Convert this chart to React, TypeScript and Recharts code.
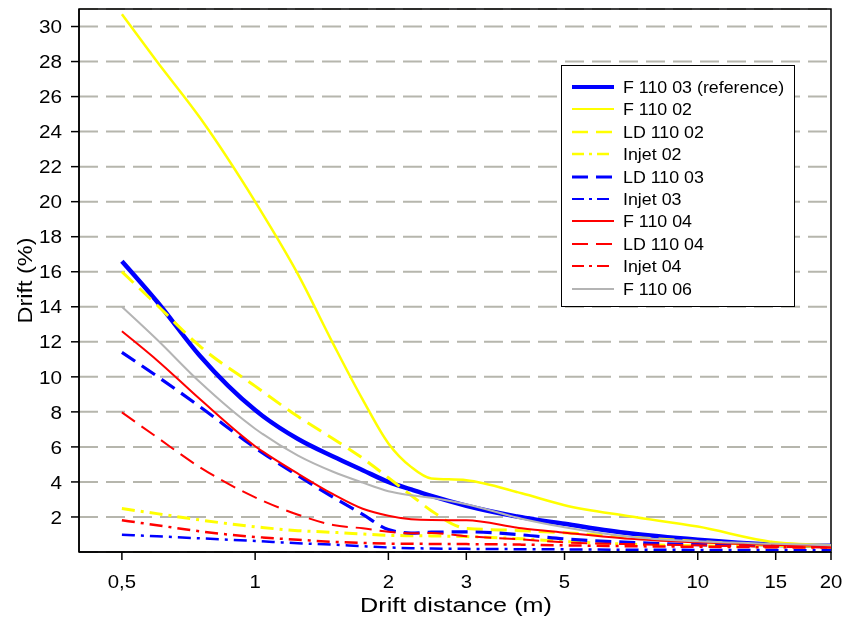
import React from 'react';
import { LineChart, Line, XAxis, YAxis, CartesianGrid, ReferenceArea, Legend } from 'recharts';

// Drift distance (m)
const distances = [0.5, 0.6, 0.75, 1, 1.25, 1.5, 1.75, 2, 2.25, 2.5, 3, 4, 5, 7, 10, 15, 20];

// Drift (%)
const f11003 = [16.6, 14.3, 11.2, 8.1, 6.45, 5.45, 4.67, 4.0, 3.57, 3.2, 2.64, 1.98, 1.61, 1.07, 0.7, 0.42, 0.35];
const f11002 = [30.7, 28.0, 24.8, 20.0, 15.85, 11.9, 8.7, 6.2, 4.86, 4.2, 4.1, 3.35, 2.67, 2.04, 1.45, 0.55, 0.38];
const ld11002 = [16.0, 14.1, 11.75, 9.47, 7.73, 6.47, 5.35, 4.24, 3.24, 2.36, 1.35, 1.22, 1.1, 0.85, 0.6, 0.38, 0.3];
const injet02 = [2.48, 2.19, 1.83, 1.44, 1.22, 1.12, 1.03, 0.95, 0.93, 0.92, 0.88, 0.75, 0.6, 0.45, 0.35, 0.3, 0.28];
const ld11003 = [11.4, 10.04, 8.3, 5.95, 4.35, 3.13, 2.15, 1.28, 1.08, 1.13, 1.15, 0.98, 0.75, 0.55, 0.42, 0.35, 0.3];
const injet03 = [0.99, 0.9, 0.78, 0.63, 0.5, 0.42, 0.33, 0.26, 0.22, 0.2, 0.18, 0.16, 0.15, 0.13, 0.12, 0.11, 0.1];
const f11004 = [12.6, 10.95, 8.73, 6.04, 4.47, 3.3, 2.47, 2.07, 1.87, 1.82, 1.81, 1.35, 1.1, 0.75, 0.55, 0.4, 0.35];
const ld11004 = [7.97, 6.55, 4.84, 3.12, 2.13, 1.54, 1.35, 1.15, 1.07, 1.08, 0.9, 0.72, 0.55, 0.45, 0.38, 0.3, 0.25];
const injet04 = [1.81, 1.53, 1.18, 0.86, 0.7, 0.58, 0.52, 0.48, 0.47, 0.46, 0.45, 0.42, 0.38, 0.33, 0.3, 0.27, 0.25];
const f11006 = [14.0, 12.13, 9.7, 7.04, 5.5, 4.58, 3.96, 3.47, 3.24, 3.1, 2.73, 1.9, 1.41, 0.87, 0.61, 0.47, 0.38];

const xTicks = [0.5, 1, 2, 3, 5, 10, 15, 20];
const yTicks = [2, 4, 6, 8, 10, 12, 14, 16, 18, 20, 22, 24, 26, 28, 30];

const DASH = '16 8';
const DASHDOT = '13 6 3 6';

const series = [
  { key: 'f11003', name: 'F 110 03 (reference)', values: f11003, color: '#0000ff', width: 4.5, dash: undefined, legendDash: undefined, legendWidth: 4 },
  { key: 'f11002', name: 'F 110 02', values: f11002, color: '#ffff00', width: 2.5, dash: undefined, legendDash: undefined, legendWidth: 2.2 },
  { key: 'ld11002', name: 'LD 110 02', values: ld11002, color: '#ffff00', width: 3, dash: DASH, legendDash: '16 8', legendWidth: 2.7 },
  { key: 'injet02', name: 'Injet 02', values: injet02, color: '#ffff00', width: 3, dash: DASHDOT, legendDash: '12 5 3 5', legendWidth: 2.5 },
  { key: 'ld11003', name: 'LD 110 03', values: ld11003, color: '#0000ff', width: 3.2, dash: DASH, legendDash: '16 8', legendWidth: 3 },
  { key: 'injet03', name: 'Injet 03', values: injet03, color: '#0000ff', width: 2.5, dash: DASHDOT, legendDash: '12 5 3 5', legendWidth: 2 },
  { key: 'f11004', name: 'F 110 04', values: f11004, color: '#ff0000', width: 2, dash: undefined, legendDash: undefined, legendWidth: 2 },
  { key: 'ld11004', name: 'LD 110 04', values: ld11004, color: '#ff0000', width: 2, dash: DASH, legendDash: '16 8', legendWidth: 2 },
  { key: 'injet04', name: 'Injet 04', values: injet04, color: '#ff0000', width: 2.5, dash: DASHDOT, legendDash: '12 5 3 5', legendWidth: 2 },
  { key: 'f11006', name: 'F 110 06', values: f11006, color: '#b4b4b4', width: 2, dash: undefined, legendDash: undefined, legendWidth: 2 },
];

const data = distances.map((d, i) => {
  const row: any = { x: d };
  series.forEach((s) => { row[s.key] = s.values[i]; });
  return row;
});

const FONT = '"Liberation Sans", Arial, sans-serif';
const fmt = (v: number) => String(v).replace('.', ',');

const XTick = (props: any) => {
  const { x, y, payload } = props;
  return (
    <g transform={`translate(${x},${y})`}>
      <text transform="scale(1.1,1)" textAnchor="middle" dy="0.71em" fontSize={18.5} fontFamily={FONT} fill="#000">
        {fmt(payload.value)}
      </text>
    </g>
  );
};

const YTick = (props: any) => {
  const { x, y, payload } = props;
  return (
    <g transform={`translate(${x},${y})`}>
      <text transform="scale(1.12,1)" textAnchor="end" dy="0.36em" fontSize={18.5} fontFamily={FONT} fill="#000">
        {payload.value}
      </text>
    </g>
  );
};

const XTitle = () => (
  <g transform="translate(448,603.5)">
    <text transform="scale(1.2,1)" textAnchor="middle" fontSize={21} fontFamily={FONT} fill="#000">
      Drift distance (m)
    </text>
  </g>
);

const YTitle = () => (
  <g transform="translate(16,272.5) rotate(-90)">
    <text transform="scale(1.12,1)" textAnchor="middle" dy="0.36em" fontSize={21} fontFamily={FONT} fill="#000">
      Drift (%)
    </text>
  </g>
);

const renderLegend = () => (
  <div
    style={{
      boxSizing: 'border-box',
      width: 234,
      height: 242,
      border: '1.3px solid #000',
      background: '#fff',
      paddingTop: 10,
      fontFamily: FONT,
    }}
  >
    {series.map((s) => (
      <div key={s.key} style={{ height: 22.4, display: 'flex', alignItems: 'center', position: 'relative' }}>
        <svg width={44} height={10} style={{ position: 'absolute', left: 9, top: 6 }}>
          <line x1={1} y1={5} x2={43} y2={5} stroke={s.color} strokeWidth={s.legendWidth} strokeDasharray={s.legendDash} />
        </svg>
        <span
          style={{
            position: 'absolute',
            left: 61,
            top: 1,
            fontSize: 16.5,
            lineHeight: '20px',
            color: '#000',
            whiteSpace: 'nowrap',
            display: 'inline-block',
            transform: 'scaleX(1.08)',
            transformOrigin: 'left center',
          }}
        >
          {s.name}
        </span>
      </div>
    ))}
  </div>
);

export default function App() {
  return (
    <div style={{ position: 'fixed', left: 8, top: 8, width: 837, height: 609 }}>
      <LineChart width={837} height={609} data={data} margin={{ top: 1, right: 14, bottom: 0, left: 0 }}>
        <CartesianGrid vertical={false} stroke="#b6b6ad" strokeWidth={2} strokeDasharray="19 8" />
        <XAxis
          dataKey="x"
          type="number"
          scale="log"
          domain={[0.4, 20]}
          ticks={xTicks}
          allowDataOverflow
          height={65}
          tickSize={8}
          tickMargin={15}
          tick={<XTick />}
          tickLine={{ stroke: '#000', strokeWidth: 1.5 }}
          axisLine={{ stroke: '#000', strokeWidth: 1.5 }}
          label={<XTitle />}
        />
        <YAxis
          type="number"
          domain={[0, 31]}
          ticks={yTicks}
          allowDataOverflow
          width={71}
          tickSize={8}
          tickMargin={9}
          tick={<YTick />}
          tickLine={{ stroke: '#000', strokeWidth: 1.5 }}
          axisLine={{ stroke: '#000', strokeWidth: 1.5 }}
          label={<YTitle />}
        />
        <ReferenceArea x1={0.4} x2={20} y1={0} y2={31} fill="none" stroke="#000" strokeWidth={1.5} />
        {series.map((s) => (
          <Line
            key={s.key}
            dataKey={s.key}
            name={s.name}
            type="monotone"
            stroke={s.color}
            strokeWidth={s.width}
            strokeDasharray={s.dash}
            dot={false}
            activeDot={false}
            isAnimationActive={false}
          />
        ))}
        <Legend
          layout="vertical"
          align="center"
          verticalAlign="middle"
          content={renderLegend}
          wrapperStyle={{ left: 553, top: 57, width: 234, height: 242 }}
        />
      </LineChart>
    </div>
  );
}
